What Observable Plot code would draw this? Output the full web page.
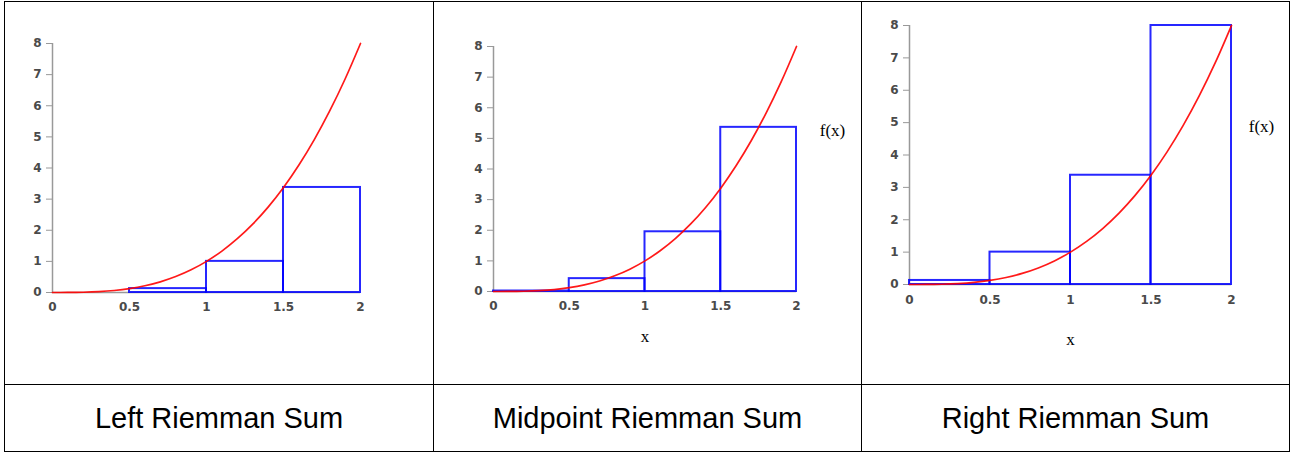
<!DOCTYPE html>
<html>
<head>
<meta charset="utf-8">
<script src="https://cdn.jsdelivr.net/npm/d3@7"></script>
<script src="https://cdn.jsdelivr.net/npm/@observablehq/plot@0.6"></script>
<style>
  body { margin: 0; background: #fff; }
  #wrap { position: relative; width: 1291px; height: 454px; overflow: hidden; }
  .ln { position: absolute; background: #000; }
  .cap { position: absolute; top: 385px; height: 66px; display: flex; align-items: center; justify-content: center;
         font-family: "Liberation Sans", Arial, sans-serif; font-size: 29px; color: #000; }
  .chart { position: absolute; top: 2px; }
</style>
</head>
<body>
<div id="wrap">
  <div class="ln" style="left:4px;top:1px;width:1286px;height:1px"></div>
  <div class="ln" style="left:4px;top:451px;width:1286px;height:1px"></div>
  <div class="ln" style="left:4px;top:1px;width:1px;height:451px"></div>
  <div class="ln" style="left:1289px;top:1px;width:1px;height:451px"></div>
  <div class="ln" style="left:4px;top:384px;width:1286px;height:1px"></div>
  <div class="ln" style="left:433px;top:1px;width:1px;height:451px"></div>
  <div class="ln" style="left:861px;top:1px;width:1px;height:451px"></div>
  <div id="c1" class="chart" style="left:5px"></div>
  <div id="c2" class="chart" style="left:434px"></div>
  <div id="c3" class="chart" style="left:862px"></div>
  <div id="t1" class="cap" style="left:5px;width:428px"></div>
  <div id="t2" class="cap" style="left:434px;width:427px"></div>
  <div id="t3" class="cap" style="left:862px;width:427px"></div>
</div>
<script>
// ---- data ----
const captions = ["Left Riemman Sum", "Midpoint Riemman Sum", "Right Riemman Sum"];
const xTicks = [0, 0.5, 1, 1.5, 2];
const xTickLabels = ["0", "0.5", "1", "1.5", "2"];
const yTicks = [0, 1, 2, 3, 4, 5, 6, 7, 8];
const yTickLabels = ["0", "1", "2", "3", "4", "5", "6", "7", "8"];
const rectStart = [0, 0.5, 1, 1.5];
const rectEnd = [0.5, 1, 1.5, 2];
const leftHeights = [0, 0.125, 1, 3.375];
const midHeights = [0.016, 0.42, 1.95, 5.36];
const rightHeights = [0.125, 1, 3.375, 8];
const curveX = [0, 0.1, 0.2, 0.3, 0.4, 0.5, 0.6, 0.7, 0.8, 0.9, 1, 1.1, 1.2, 1.3, 1.4, 1.5, 1.6, 1.7, 1.8, 1.9, 2];
const curveY = [0, 0.001, 0.008, 0.027, 0.064, 0.125, 0.216, 0.343, 0.512, 0.729, 1, 1.331, 1.728, 2.197, 2.744, 3.375, 4.096, 4.913, 5.832, 6.859, 8];
const xAxisLabel = "x";
const fLabel = "f(x)";

const curve = curveX.map((x, i) => ({x, y: curveY[i]}));

function chart(heights, o) {
  const rects = rectStart.map((s, i) => ({x1: s, x2: rectEnd[i], h: heights[i]}));
  const marks = [
    Plot.ruleX([0], {stroke: "#999", strokeWidth: 1.5}),
    Plot.ruleY([0], {stroke: "#999", strokeWidth: 1.5}),
    Plot.axisY({ticks: yTicks, tickFormat: (d, i) => yTickLabels[i], tickSize: 6, tickPadding: 5,
                stroke: "#999", fill: "#4a4a4a", fontSize: 12, fontWeight: 600, label: null}),
    Plot.axisX({ticks: xTicks, tickFormat: (d, i) => xTickLabels[i], tickSize: 0, tickPadding: o.xPad,
                fill: "#4a4a4a", fontSize: 12, fontWeight: 600, label: null}),
    Plot.rect(rects, {x1: "x1", x2: "x2", y1: 0, y2: "h", fill: "none", stroke: "#0000ff",
                      strokeWidth: 2, strokeOpacity: 0.85}),
    Plot.line(curve, {x: "x", y: "y", stroke: "#ff0000", strokeWidth: 1.7, strokeOpacity: 0.9, curve: "monotone-x"})
  ];
  if (o.labels) {
    marks.push(Plot.axisX({ticks: [], label: xAxisLabel, labelAnchor: "center", labelArrow: "none",
                           labelOffset: o.xLabelOffset, fontFamily: "Liberation Serif", fontSize: 17, fill: "#000"}));
    marks.push(Plot.text([fLabel], {text: d => d, frameAnchor: "top-right", dx: o.fdx, dy: o.fdy,
                                    textAnchor: "middle", fontFamily: "Liberation Serif", fontSize: 17, fill: "#000"}));
  }
  return Plot.plot({
    width: o.width, height: 381,
    marginLeft: o.ml, marginRight: o.mr, marginTop: o.mt, marginBottom: o.mb,
    x: {domain: [0, 2]},
    y: {domain: [0, 8]},
    style: {fontFamily: "DejaVu Sans", fontSize: "12px", background: "transparent"},
    marks
  });
}

document.getElementById("c1").append(chart(leftHeights,
  {width: 427, ml: 47, mr: 72, mt: 41, mb: 91, xPad: 10, labels: false}));
document.getElementById("c2").append(chart(midHeights,
  {width: 426, ml: 59, mr: 64, mt: 44, mb: 92, xPad: 10, labels: true, xLabelOffset: 50, fdx: 36, fdy: 77}));
document.getElementById("c3").append(chart(rightHeights,
  {width: 427, ml: 47, mr: 58, mt: 23, mb: 99, xPad: 11, labels: true, xLabelOffset: 60, fdx: 30, fdy: 94}));

["t1", "t2", "t3"].forEach((id, i) => { document.getElementById(id).textContent = captions[i]; });
</script>
</body>
</html>
